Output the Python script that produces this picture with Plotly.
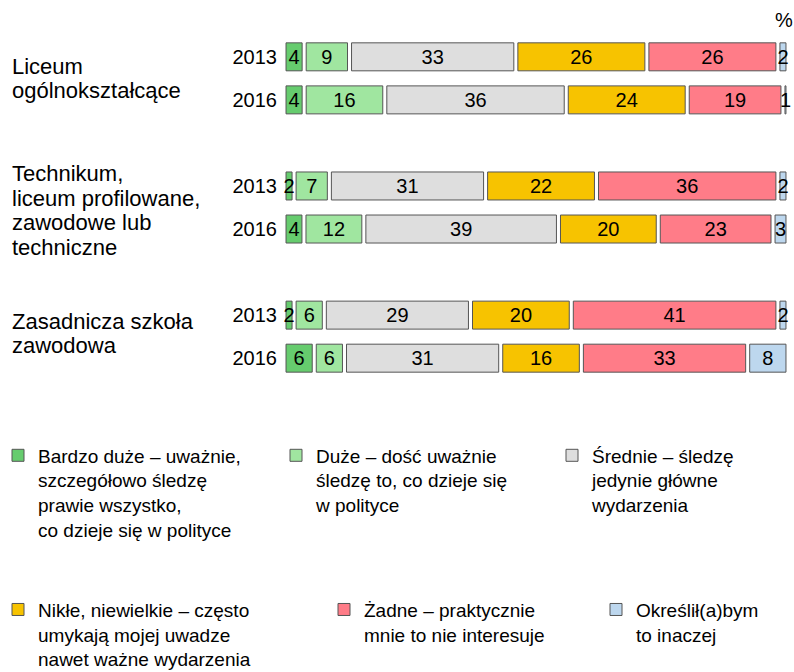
import plotly.graph_objects as go

# ---------------- data ----------------
groups = [["Liceum", "ogólnokształcące"],
          ["Technikum,", "liceum profilowane,", "zawodowe lub", "techniczne"],
          ["Zasadnicza szkoła", "zawodowa"]]
years = ["2013", "2016"]

series_names = [
    "Bardzo duże – uważnie,<br>szczegółowo śledzę<br>prawie wszystko,<br>co dzieje się w polityce",
    "Duże – dość uważnie<br>śledzę to, co dzieje się<br>w polityce",
    "Średnie – śledzę<br>jedynie główne<br>wydarzenia",
    "Nikłe, niewielkie – często<br>umykają mojej uwadze<br>nawet ważne wydarzenia",
    "Żadne – praktycznie<br>mnie to nie interesuje",
    "Określił(a)bym<br>to inaczej",
]
# rows: Liceum 2013, Liceum 2016, Technikum 2013, Technikum 2016, Zasadnicza 2013, Zasadnicza 2016
bardzo_duze = [4, 4, 2, 4, 2, 6]
duze        = [9, 16, 7, 12, 6, 6]
srednie     = [33, 36, 31, 39, 29, 31]
nikle       = [26, 24, 22, 20, 20, 16]
zadne       = [26, 19, 36, 23, 41, 33]
inaczej     = [2, 1, 2, 3, 2, 8]

series_values = [bardzo_duze, duze, srednie, nikle, zadne, inaczej]
colors = ["#66CC6E", "#A0E6A0", "#DEDEDE", "#F7C300", "#FF7C88", "#BDD7EE"]

# ---------------- layout constants ----------------
W, H = 794, 672
ML, MR, MT = 284, 6, 31
ROW_PITCH = 43
y_range = [7.6, -0.6]
plot_h = (y_range[0] - y_range[1]) * ROW_PITCH
MB = H - MT - plot_h
plot_w = W - ML - MR


def px_x(p):   # page pixel x -> paper x
    return (p - ML) / plot_w


def px_y(p):   # page pixel y -> paper y
    return 1 - (p - MT) / plot_h


row_pos = []
for gi in range(len(groups)):
    row_pos += [gi * 3, gi * 3 + 1]
row_years = years * len(groups)

FONT = "Liberation Sans, Arial, sans-serif"
FS = 20
LEG_FS = 19
GAP = 0.8  # visual gap between segments, in % units

totals = [sum(s[i] for s in series_values) for i in range(len(row_pos))]

fig = go.Figure()
cum = [0.0] * len(row_pos)
for k, (name, vals, col) in enumerate(zip(series_names, series_values, colors)):
    share = [v / t * 100 for v, t in zip(vals, totals)]
    fig.add_trace(go.Bar(
        orientation="h",
        y=row_pos,
        x=[s - GAP for s in share],
        base=[c + GAP / 2 for c in cum],
        width=0.65,
        name=name,
        legend="legend" if k == 0 else f"legend{k + 1}",
        marker=dict(color=col, line=dict(color="#555555", width=1)),
        text=[str(v) for v in vals],
        textposition="inside",
        insidetextanchor="middle",
        constraintext="none",
        textangle=0,
        textfont=dict(family=FONT, size=FS, color="black"),
        cliponaxis=False,
        hoverinfo="skip",
    ))
    cum = [c + s for c, s in zip(cum, share)]

# legends: text left edges and top positions (page px)
legend_pos = [(38, 436), (316, 436), (592, 436), (38, 590), (364, 590), (636, 590)]
legend_layout = {}
for k, (tx, ty) in enumerate(legend_pos):
    key = "legend" if k == 0 else f"legend{k + 1}"
    legend_layout[key] = dict(
        xref="paper", yref="paper",
        x=px_x(tx - 40), y=px_y(ty),
        xanchor="left", yanchor="top",
        bgcolor="rgba(0,0,0,0)",
        font=dict(family=FONT, size=LEG_FS, color="black"),
        valign="top",
        traceorder="normal",
    )

annotations = []
LINE_PITCH = 24.5 / ROW_PITCH
group_shift_px = [0, 3, -3]
for gi, lines in enumerate(groups):
    mid = gi * 3 + 0.5 + group_shift_px[gi] / ROW_PITCH
    n = len(lines)
    for li, line in enumerate(lines):
        annotations.append(dict(
            text=line, xref="paper", yref="y",
            x=px_x(10), y=mid + (li - (n - 1) / 2) * LINE_PITCH,
            xanchor="left", yanchor="middle", align="left",
            showarrow=False,
            font=dict(family=FONT, size=22, color="black"),
        ))
annotations.append(dict(
    text="%", xref="paper", yref="paper",
    x=px_x(784), y=px_y(20),
    xanchor="center", yanchor="middle", showarrow=False,
    font=dict(family=FONT, size=FS, color="black"),
))

fig.update_layout(
    width=W, height=H,
    margin=dict(l=ML, r=MR, t=MT, b=MB, pad=0, autoexpand=False),
    barmode="overlay",
    plot_bgcolor="white", paper_bgcolor="white",
    showlegend=True,
    xaxis=dict(range=[0, 100], visible=False, fixedrange=True),
    yaxis=dict(
        range=y_range, tickmode="array", tickvals=row_pos, ticktext=row_years,
        showgrid=False, zeroline=False, showline=False, ticks="",
        ticklabelstandoff=6,
        tickfont=dict(family=FONT, size=FS, color="black"),
        fixedrange=True,
    ),
    annotations=annotations,
    **legend_layout,
)

fig.write_html(
    "out.html",
    config={"displayModeBar": False},
    post_script="document.body.style.margin='0';document.body.style.overflow='hidden';",
)
